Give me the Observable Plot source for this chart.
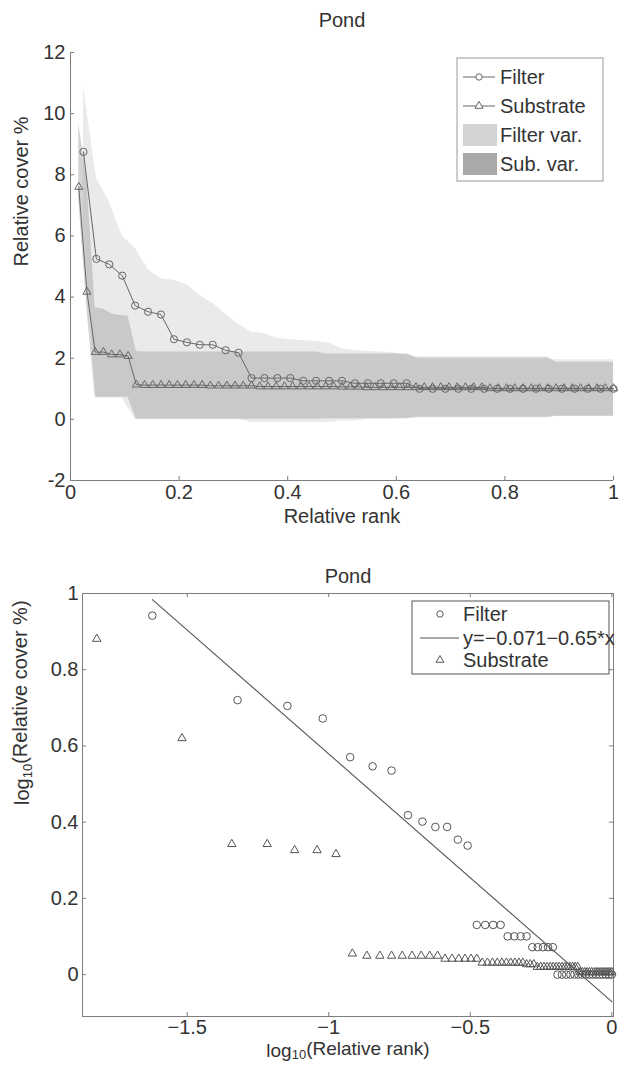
<!DOCTYPE html>
<html>
<head>
<meta charset="utf-8">
<script src="https://cdn.jsdelivr.net/npm/d3@7"></script>
<script src="https://cdn.jsdelivr.net/npm/@observablehq/plot@0.6"></script>
<style>
html, body { margin: 0; padding: 0; background: #fff; overflow: hidden; }
#chart { width: 618px; }
#chart svg { display: block; }
</style>
</head>
<body>
<div id="chart"></div>
<script>
// ---------------- data ----------------
const filterN = 42;
const substrateN = 66;

const filterCover = [8.75, 5.25, 5.07, 4.7, 3.72, 3.52, 3.43, 2.62, 2.52, 2.44, 2.44, 2.26, 2.18,
  1.35, 1.35, 1.35, 1.35, 1.26, 1.26, 1.26, 1.26, 1.18, 1.18, 1.18, 1.18, 1.18,
  1.0, 1.0, 1.0, 1.0, 1.0, 1.0, 1.0, 1.0, 1.0, 1.0, 1.0, 1.0, 1.0, 1.0, 1.0, 1.0];

const substrateCover = [7.6, 4.17, 2.2, 2.2, 2.12, 2.12, 2.07, 1.135,
  1.12, 1.12, 1.12, 1.12, 1.12, 1.12, 1.12, 1.12,
  1.10, 1.10, 1.10, 1.10, 1.10, 1.10,
  1.074, 1.074, 1.074, 1.074, 1.074, 1.074, 1.074, 1.074, 1.074, 1.074,
  1.064, 1.064, 1.064,
  1.047, 1.047, 1.047, 1.047, 1.047, 1.047, 1.047, 1.047, 1.047, 1.047, 1.047, 1.047, 1.047, 1.047, 1.047,
  1.014, 1.014, 1.014, 1.014, 1.014, 1.014, 1.014, 1.014, 1.014, 1.014, 1.014, 1.014, 1.014, 1.014, 1.014, 1.014];

const filterVarLow = [6.5, 0.7, 0.7, 0.7,
  0, 0, 0, 0, 0, 0, 0, 0, 0,
  -0.1, -0.1, -0.1, -0.1, -0.1, -0.1, -0.1,
  -0.05, -0.05, 0, 0, 0, 0.05,
  0.1, 0.1, 0.1, 0.1, 0.1, 0.1, 0.1, 0.1, 0.1, 0.1, 0.1, 0.1, 0.1, 0.1, 0.1, 0.1];
const filterVarHigh = [10.9, 7.9, 7.1, 6.0, 5.6, 4.9, 4.6, 4.55, 4.4, 4.05, 3.8, 3.45, 3.1,
  2.85, 2.8, 2.65, 2.6, 2.58, 2.55, 2.5, 2.3, 2.25, 2.22, 2.2, 2.18, 2.1,
  1.95, 1.95, 1.95, 1.95, 1.95, 1.95, 1.95, 1.95, 1.95, 1.95, 1.95, 1.95, 1.95, 1.95, 1.95, 1.95];

const subVarLow = [7.2, 3.6, 0.72, 0.72, 0.72, 0.72, 0.72,
  0, 0, 0, 0, 0, 0, 0, 0, 0, 0, 0, 0, 0, 0, 0, 0, 0, 0, 0, 0, 0, 0, 0,
  0.02, 0.02, 0.02, 0.02, 0.02, 0.02, 0.02, 0.02, 0.02, 0.02, 0.02,
  0.05, 0.05, 0.05, 0.05, 0.05, 0.05, 0.05, 0.05, 0.05, 0.05, 0.05, 0.05, 0.05, 0.05, 0.05, 0.05, 0.05,
  0.1, 0.1, 0.1, 0.1, 0.1, 0.1, 0.1, 0.1];
const subVarHigh = [9.7, 7.8, 3.65, 3.6, 3.45, 3.4, 3.38,
  2.22, 2.2, 2.2, 2.2, 2.2, 2.2, 2.2, 2.2, 2.2, 2.2, 2.2, 2.2, 2.2, 2.2, 2.2, 2.2, 2.2, 2.2, 2.2, 2.2, 2.2, 2.2, 2.2,
  2.14, 2.14, 2.14, 2.14, 2.14, 2.14, 2.14, 2.14, 2.14, 2.14, 2.14,
  2.03, 2.03, 2.03, 2.03, 2.03, 2.03, 2.03, 2.03, 2.03, 2.03, 2.03, 2.03, 2.03, 2.03, 2.03, 2.03, 2.03,
  1.87, 1.87, 1.87, 1.87, 1.87, 1.87, 1.87, 1.87];

const fitIntercept = -0.071;
const fitSlope = -0.65;
const fitXRange = [-1.623, 0];

const rankTicks = [0, 0.2, 0.4, 0.6, 0.8, 1];
const coverTicks = [-2, 0, 2, 4, 6, 8, 10, 12];
const logRankTicks = [-1.5, -1, -0.5, 0];
const logCoverTicks = [0, 0.2, 0.4, 0.6, 0.8, 1];

const titleText = "Pond";
const topXLabel = "Relative rank";
const topYLabel = "Relative cover %";
const botXLabel = "log10(Relative rank)";
const botYLabel = "log10(Relative cover %)";
const topLegendLabels = ["Filter", "Substrate", "Filter var.", "Sub. var."];
const botLegendLabels = ["Filter", "y=\u22120.071\u22120.65*x", "Substrate"];

// ---------------- derived tables ----------------
const filterData = filterCover.map((v, i) => ({
  rank: (i + 1) / filterN, cover: v, low: filterVarLow[i], high: filterVarHigh[i]
}));
const subData = substrateCover.map((v, i) => ({
  rank: (i + 1) / substrateN, cover: v, low: subVarLow[i], high: subVarHigh[i]
}));
const filterLog = filterData.map(d => ({x: Math.log10(d.rank), y: Math.log10(d.cover)}));
const subLog = subData.map(d => ({x: Math.log10(d.rank), y: Math.log10(d.cover)}));
const fitLine = fitXRange.map(x => ({x, y: fitIntercept + fitSlope * x}));

// ---------------- styles ----------------
const FONT = "'Liberation Sans', Arial, Helvetica, sans-serif";
const INK = "#333";
const AXIS = "#7d7d7d";
const MARK = "#666";
const MARK2 = "#555";
const FS = 20;
const minusFmt = d => d < 0 ? "\u2212" + Math.abs(d) : String(d);

// ---------------- top chart ----------------
const tW = 618, tH = 532, tMT = 52, tMB = 52, tML = 70, tMR = 5;
const tFW = tW - tML - tMR, tFH = tH - tMT - tMB;

const topChart = Plot.plot({
  width: tW, height: tH,
  marginTop: tMT, marginBottom: tMB, marginLeft: tML, marginRight: tMR,
  style: {fontFamily: FONT, fontSize: FS + "px", color: INK, background: "#fff"},
  x: {domain: [0, 1]},
  y: {domain: [-2, 12]},
  marks: [
    Plot.areaY(filterData, {x: "rank", y1: "low", y2: "high", fill: "#d6d6d6", fillOpacity: 0.5}),
    Plot.areaY(subData, {x: "rank", y1: "low", y2: "high", fill: "#a8a8a8", fillOpacity: 0.5}),
    Plot.line(subData, {x: "rank", y: "cover", stroke: MARK, strokeWidth: 1}),
    Plot.dot(subData, {x: "rank", y: "cover", symbol: "triangle", r: 3, stroke: MARK, fill: "none", strokeWidth: 1}),
    Plot.line(filterData, {x: "rank", y: "cover", stroke: MARK, strokeWidth: 1}),
    Plot.dot(filterData, {x: "rank", y: "cover", symbol: "circle", r: 3.6, stroke: MARK, fill: "none", strokeWidth: 1}),
    Plot.ruleX([0], {stroke: AXIS}),
    Plot.ruleY([-2], {stroke: AXIS}),
    Plot.tickX(rankTicks, {x: d => d, insetTop: tFH - 4, stroke: AXIS}),
    Plot.tickY(coverTicks, {y: d => d, insetRight: tFW - 4, stroke: AXIS}),
    Plot.axisX({ticks: rankTicks, tickSize: 0, tickPadding: 4, tickFormat: d => String(d), label: null}),
    Plot.axisY({ticks: coverTicks, tickSize: 0, tickPadding: 5, tickFormat: d => String(d), label: null}),
    Plot.text([titleText], {frameAnchor: "top", dy: -40, fontSize: FS}),
    Plot.text([topXLabel], {frameAnchor: "bottom", dy: 42, fontSize: FS}),
    Plot.text([topYLabel], {frameAnchor: "left", dx: -49, rotate: -90, fontSize: FS})
  ]
});

// ---------------- bottom chart ----------------
const bW = 618, bH = 534, bMT = 61, bMB = 50, bML = 82, bMR = 5;
const bFW = bW - bML - bMR, bFH = bH - bMT - bMB;

const botChart = Plot.plot({
  width: bW, height: bH,
  marginTop: bMT, marginBottom: bMB, marginLeft: bML, marginRight: bMR,
  style: {fontFamily: FONT, fontSize: FS + "px", color: INK, background: "#fff"},
  x: {domain: [-1.87, 0.006]},
  y: {domain: [-0.11, 1]},
  marks: [
    Plot.frame({stroke: AXIS}),
    Plot.tickX(logRankTicks, {x: d => d, insetTop: bFH - 4, stroke: AXIS}),
    Plot.tickX(logRankTicks, {x: d => d, insetBottom: bFH - 4, stroke: AXIS}),
    Plot.tickY(logCoverTicks, {y: d => d, insetRight: bFW - 4, stroke: AXIS}),
    Plot.tickY(logCoverTicks, {y: d => d, insetLeft: bFW - 4, stroke: AXIS}),
    Plot.line(fitLine, {x: "x", y: "y", stroke: MARK2, strokeWidth: 1.1}),
    Plot.dot(filterLog, {x: "x", y: "y", symbol: "circle", r: 3.8, stroke: MARK2, fill: "none", strokeWidth: 1}),
    Plot.dot(subLog, {x: "x", y: "y", symbol: "triangle", r: 3.1, stroke: MARK2, fill: "none", strokeWidth: 1}),
    Plot.axisX({ticks: logRankTicks, tickSize: 0, tickPadding: 3, tickFormat: minusFmt, label: null}),
    Plot.axisY({ticks: logCoverTicks, tickSize: 0, tickPadding: 4, tickFormat: d => String(d), label: null}),
    Plot.text([titleText], {frameAnchor: "top", dy: -25, fontSize: FS}),
    Plot.text([botXLabel], {frameAnchor: "bottom", dy: 40, fontSize: 19}),
    Plot.text([botYLabel], {frameAnchor: "left", dx: -60, rotate: -90, fontSize: FS})
  ]
});

// subscript "10" in log labels
function subscriptLog(svg) {
  d3.select(svg).selectAll("text").each(function() {
    const t = this.textContent;
    if (t.startsWith("log10(")) {
      const rest = t.slice(5);
      const sel = d3.select(this);
      sel.text(null);
      sel.append("tspan").text("log");
      sel.append("tspan").attr("dy", "0.22em").attr("font-size", 13).text("10");
      sel.append("tspan").attr("dy", "-0.22em").text(rest);
    }
  });
}
subscriptLog(botChart);

// ---------------- legends ----------------
function addTopLegend(svg) {
  const g = d3.select(svg).append("g").attr("font-family", FONT).attr("font-size", FS)
    .attr("fill", INK).attr("text-anchor", "start");
  g.append("rect").attr("x", 457).attr("y", 58).attr("width", 146).attr("height", 123)
    .attr("fill", "#fff").attr("stroke", "#999");
  const rows = [77, 106, 135, 164];
  g.append("line").attr("x1", 463).attr("x2", 495).attr("y1", rows[0]).attr("y2", rows[0]).attr("stroke", MARK);
  g.append("circle").attr("cx", 479).attr("cy", rows[0]).attr("r", 3.2).attr("fill", "#fff").attr("stroke", MARK);
  g.append("line").attr("x1", 463).attr("x2", 495).attr("y1", rows[1]).attr("y2", rows[1]).attr("stroke", MARK);
  g.append("path").attr("transform", `translate(479,${rows[1]})`)
    .attr("d", d3.symbol(d3.symbolTriangle, 28)()).attr("fill", "#fff").attr("stroke", MARK);
  g.append("rect").attr("x", 463).attr("y", rows[2] - 11).attr("width", 34).attr("height", 22).attr("fill", "#d3d3d3");
  g.append("rect").attr("x", 463).attr("y", rows[3] - 11).attr("width", 34).attr("height", 22).attr("fill", "#a9a9a9");
  topLegendLabels.forEach((lab, i) => {
    g.append("text").attr("x", 500).attr("y", rows[i]).attr("dy", "0.35em").attr("text-anchor", "start").text(lab);
  });
}
function addBotLegend(svg) {
  const g = d3.select(svg).append("g").attr("font-family", FONT).attr("font-size", FS)
    .attr("fill", INK).attr("text-anchor", "start");
  g.append("rect").attr("x", 412).attr("y", 69).attr("width", 197).attr("height", 73)
    .attr("fill", "#fff").attr("stroke", MARK2);
  const rows = [82, 106, 128];
  g.append("circle").attr("cx", 440).attr("cy", rows[0]).attr("r", 3.2).attr("fill", "none").attr("stroke", MARK2);
  g.append("line").attr("x1", 420).attr("x2", 459).attr("y1", rows[1]).attr("y2", rows[1]).attr("stroke", MARK2);
  g.append("path").attr("transform", `translate(440,${rows[2]})`)
    .attr("d", d3.symbol(d3.symbolTriangle, 26)()).attr("fill", "none").attr("stroke", MARK2);
  botLegendLabels.forEach((lab, i) => {
    g.append("text").attr("x", 463).attr("y", rows[i]).attr("dy", "0.35em").attr("text-anchor", "start").text(lab);
  });
}
addTopLegend(topChart);
addBotLegend(botChart);

document.getElementById("chart").append(topChart, botChart);
</script>
</body>
</html>
